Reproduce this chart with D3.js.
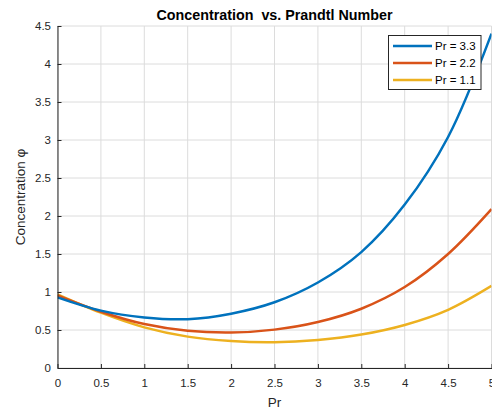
<!DOCTYPE html>
<html><head><meta charset="utf-8">
<script src="https://cdn.jsdelivr.net/npm/d3@7"></script>
<style>body{margin:0;background:#fff}svg{display:block}</style>
</head><body>
<script>
const xValues = [0, 0.5, 1, 1.5, 2, 2.5, 3, 3.5, 4, 4.5, 5];
const pr33 = [0.93, 0.755, 0.665, 0.643, 0.715, 0.865, 1.125, 1.525, 2.15, 3.04, 4.40];
const pr22 = [0.955, 0.74, 0.578, 0.49, 0.467, 0.505, 0.605, 0.78, 1.065, 1.50, 2.09];
const pr11 = [0.97, 0.728, 0.535, 0.413, 0.355, 0.34, 0.37, 0.44, 0.566, 0.765, 1.08];
const seriesNames = ["Pr = 3.3", "Pr = 2.2", "Pr = 1.1"];
const xTicks = [0, 0.5, 1, 1.5, 2, 2.5, 3, 3.5, 4, 4.5, 5];
const yTicks = [0, 0.5, 1, 1.5, 2, 2.5, 3, 3.5, 4, 4.5];
const colors = ["#0072BD", "#D95319", "#EDB120"];

const W = 492, H = 409;
const m = {l: 57.5, r: 0.5, t: 26, b: 41};
const svg = d3.select("body").append("svg").attr("width", W).attr("height", H);
const x = d3.scaleLinear().domain([0, 5]).range([m.l, W - m.r]);
const y = d3.scaleLinear().domain([0, 4.5]).range([H - m.b, m.t]);
const font = "'Liberation Sans', Arial, Helvetica, sans-serif";

// grid
const g = svg.append("g");
g.selectAll(".gx").data(xTicks).enter().append("line")
  .attr("x1", d => x(d)).attr("x2", d => x(d)).attr("y1", y(0)).attr("y2", y(4.5))
  .attr("stroke", "#dcdcdc").attr("stroke-width", 1);
g.selectAll(".gy").data(yTicks).enter().append("line")
  .attr("x1", x(0)).attr("x2", x(5)).attr("y1", d => y(d)).attr("y2", d => y(d))
  .attr("stroke", "#dcdcdc").attr("stroke-width", 1);

// lines
const data = [pr33, pr22, pr11];
const line = d3.line().x((d, i) => x(xValues[i])).y(d => y(d)).curve(d3.curveCatmullRom.alpha(0.5));
svg.append("defs").append("clipPath").attr("id", "clip").append("rect")
  .attr("x", m.l).attr("y", m.t).attr("width", W - m.l - m.r).attr("height", H - m.t - m.b);
const lg = svg.append("g").attr("clip-path", "url(#clip)");
[2, 1, 0].forEach(i => {
  lg.append("path").datum(data[i]).attr("d", line).attr("fill", "none")
    .attr("stroke", colors[i]).attr("stroke-width", 2.5);
});

// axes
const xAxis = d3.axisBottom(x).tickValues(xTicks).tickSizeInner(-4).tickSizeOuter(0).tickPadding(10.5)
  .tickFormat(d3.format("~g"));
const yAxis = d3.axisLeft(y).tickValues(yTicks).tickSizeInner(-4).tickSizeOuter(0).tickPadding(6.5)
  .tickFormat(d3.format("~g"));
const ax = svg.append("g").attr("transform", `translate(0,${y(0)})`).call(xAxis);
const ay = svg.append("g").attr("transform", `translate(${x(0)},0)`).call(yAxis);
[ax, ay].forEach(a => {
  a.select(".domain").attr("stroke", "#262626");
  a.selectAll(".tick line").attr("stroke", "#262626");
  a.selectAll("text").attr("fill", "#262626").attr("font-family", font).attr("font-size", 11.5);
});

// labels
svg.append("text").attr("x", (x(0) + x(5)) / 2).attr("y", 20).attr("text-anchor", "middle")
  .attr("font-family", font).attr("font-weight", "bold").attr("font-size", 14.3).attr("fill", "#000")
  .attr("xml:space", "preserve").style("white-space", "pre")
  .text("Concentration  vs. Prandtl Number");
svg.append("text").attr("x", (x(0) + x(5)) / 2).attr("y", 407).attr("text-anchor", "middle")
  .attr("font-family", font).attr("font-size", 13.5).attr("fill", "#262626").text("Pr");
svg.append("text").attr("transform", `translate(25,${(y(0) + y(4.5)) / 2}) rotate(-90)`)
  .attr("text-anchor", "middle").attr("font-family", font).attr("font-size", 13.5).attr("fill", "#262626")
  .text("Concentration φ");

// legend
const leg = svg.append("g").attr("transform", "translate(388,35)");
leg.append("rect").attr("x", 0.5).attr("y", 0.5).attr("width", 92.5).attr("height", 54)
  .attr("fill", "#fff").attr("stroke", "#262626").attr("stroke-width", 1);
seriesNames.forEach((s, i) => {
  const yy = 11 + i * 17;
  leg.append("line").attr("x1", 5).attr("x2", 44).attr("y1", yy).attr("y2", yy)
    .attr("stroke", colors[i]).attr("stroke-width", 2.5);
  leg.append("text").attr("x", 47).attr("y", yy + 4).attr("font-family", font)
    .attr("font-size", 11.5).attr("fill", "#000").text(s);
});
</script>
</body></html>
